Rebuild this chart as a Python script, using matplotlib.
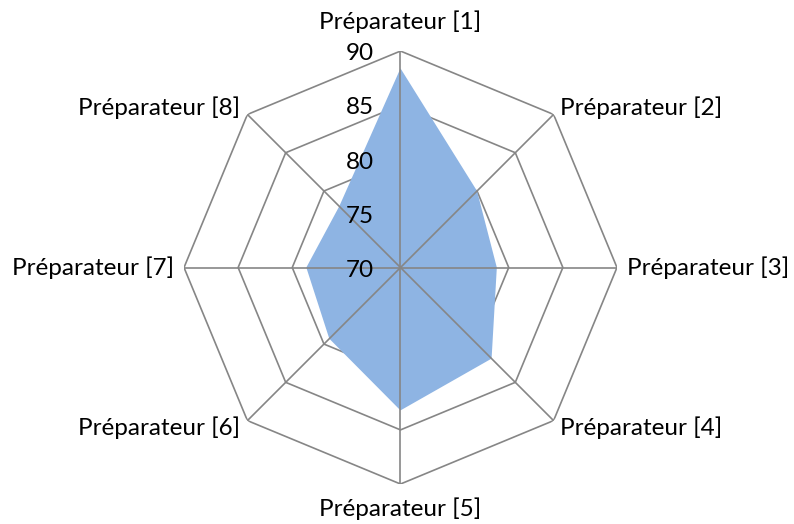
import numpy as np
import matplotlib
matplotlib.use("Agg")
import matplotlib.pyplot as plt

# Scores per preparer (radar, axis 70-90)
categories = [f"Préparateur [{i}]" for i in range(1, 9)]
scores = [88.4, 80.0, 78.9, 81.9, 83.2, 79.3, 78.7, 78.0]
rings = [70, 75, 80, 85, 90]

plt.rcParams["font.family"] = ["Lato", "DejaVu Sans"]
grid_color = "#868686"
fill_color = "#8EB4E3"
fs = 17.5

n = len(categories)
theta = np.linspace(0, 2 * np.pi, n, endpoint=False)
theta_closed = np.append(theta, theta[0])

fig = plt.figure(figsize=(7.94, 5.24), dpi=100)
ax = fig.add_axes([0.2317, 0.0763, 0.5454, 0.8263], projection="polar")
ax.set_theta_zero_location("N")
ax.set_theta_direction(-1)
ax.set_ylim(rings[0], rings[-1])
ax.grid(False)
ax.spines["polar"].set_visible(False)
ax.set_xticks([])
ax.set_yticks([])
ax.patch.set_visible(False)

# octagonal rings sit under the series, spokes on top
for r in rings:
    ax.plot(theta_closed, [r] * (n + 1), color=grid_color, lw=1.2, zorder=1)

vals = np.append(scores, scores[0])
ax.fill(theta_closed, vals, color=fill_color, lw=0, zorder=2)

for t in theta:
    ax.plot([t, t], [rings[0], rings[-1]], color=grid_color, lw=1.2, zorder=3)

# value labels along the top spoke
for r in rings:
    ax.annotate(str(r), xy=(0, r), xytext=(-19, -2), textcoords="offset points",
                ha="right", va="center", fontsize=fs, color="black", zorder=4)

# category labels
for t, name in zip(theta, categories):
    deg = np.degrees(t) % 360
    if np.isclose(deg, 0):
        ax.text(t, 92.7, name, ha="center", va="center", fontsize=fs)
    elif np.isclose(deg, 180):
        ax.text(t, 92.3, name, ha="center", va="center", fontsize=fs)
    elif deg < 180:
        ax.text(t, 90.9, name, ha="left", va="center", fontsize=fs)
    else:
        ax.text(t, 90.9, name, ha="right", va="center", fontsize=fs)

fig.savefig("out.png", dpi=100)
